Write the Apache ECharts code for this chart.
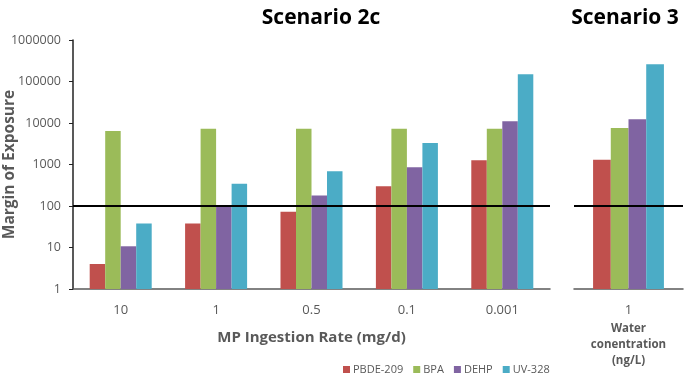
<!DOCTYPE html>
<html>
<head>
<meta charset="utf-8">
<script src="https://cdn.jsdelivr.net/npm/echarts@6/dist/echarts.min.js"></script>
<style>
  html, body { margin: 0; padding: 0; background: #fff; }
  #chart { width: 685px; height: 379px; }
</style>
</head>
<body>
<div id="chart"></div>
<script>
// Scenario 2c: MP ingestion rate (mg/d)
const ingestionRates = ['10', '1', '0.5', '0.1', '0.001'];
const pbde2c = [4, 38, 73, 300, 1260];
const bpa2c = [6400, 7300, 7300, 7300, 7300];
const dehp2c = [10.7, 100, 180, 855, 11000];
const uv2c = [38, 344, 690, 3300, 149000];

// Scenario 3: water concentration (ng/L)
const waterConc = ['1'];
const pbde3 = [1300];
const bpa3 = [7600];
const dehp3 = [12300];
const uv3 = [260000];

const threshold = 100;
const seriesNames = ['PBDE-209', 'BPA', 'DEHP', 'UV-328'];
const colors = ['#C0504D', '#9BBB59', '#8064A2', '#4BACC6'];

const font = "'Open Sans', sans-serif";
const gray = '#595959';

const thresholdLine = {
    symbol: 'none',
    silent: true,
    label: { show: false },
    lineStyle: { color: '#000', width: 2, type: 'solid' },
    data: [{ yAxis: threshold }]
};

function makeSeries(data, idx, axisIdx, withLine) {
    const s = {
        name: seriesNames[idx],
        type: 'bar',
        xAxisIndex: axisIdx,
        yAxisIndex: axisIdx,
        data: data,
        barGap: '0%',
        barCategoryGap: '35%',
        itemStyle: { color: colors[idx] },
        emphasis: { disabled: true }
    };
    if (withLine) s.markLine = thresholdLine;
    return s;
}

const chart = echarts.init(document.getElementById('chart'));
chart.setOption({
    animation: false,
    textStyle: { fontFamily: font },
    title: [
        { text: 'Scenario 2c', left: 316, top: 3, textAlign: 'center',
          textStyle: { fontSize: 21, fontWeight: 'bold', color: '#000', fontFamily: font } },
        { text: 'Scenario 3', left: 620, top: 3, textAlign: 'center',
          textStyle: { fontSize: 21, fontWeight: 'bold', color: '#000', fontFamily: font } }
    ],
    legend: {
        data: seriesNames,
        left: 338,
        top: 359,
        icon: 'rect',
        itemWidth: 7,
        itemHeight: 7,
        itemGap: 10,
        textStyle: { fontSize: 11, color: gray, fontFamily: font, padding: [0, 0, 0, -2] }
    },
    grid: [
        { left: 73, right: 135, top: 40, bottom: 90, outerBoundsMode: 'none', containLabel: false },
        { left: 574, right: 2, top: 40, bottom: 90, outerBoundsMode: 'none', containLabel: false }
    ],
    xAxis: [
        {
            type: 'category', gridIndex: 0, data: ingestionRates,
            name: 'MP Ingestion Rate (mg/d)', nameLocation: 'middle', nameGap: 41,
            nameMoveOverlap: false,
            nameTextStyle: { fontSize: 15, fontWeight: 'bold', color: gray, fontFamily: font },
            axisLine: { lineStyle: { color: '#595959', width: 1.5 } },
            axisTick: { show: false },
            axisLabel: { fontSize: 13, color: gray, margin: 15, fontFamily: font }
        },
        {
            type: 'category', gridIndex: 1, data: waterConc,
            name: 'Water\nconentration\n(ng/L)', nameLocation: 'middle', nameGap: 32,
            nameMoveOverlap: false,
            nameTextStyle: { fontSize: 11.5, fontWeight: 'bold', color: gray, lineHeight: 16, fontFamily: font,
                             verticalAlign: 'top' },
            axisLine: { lineStyle: { color: '#595959', width: 1.5 } },
            axisTick: { show: false },
            axisLabel: { fontSize: 13, color: gray, margin: 15, fontFamily: font }
        }
    ],
    yAxis: [
        {
            type: 'log', gridIndex: 0, min: 1, max: 1000000, logBase: 10,
            name: 'Margin of Exposure', nameLocation: 'middle', nameGap: 55,
            nameMoveOverlap: false,
            nameTextStyle: { fontSize: 15.5, fontWeight: 'bold', color: gray, fontFamily: font },
            axisLine: { show: true, lineStyle: { color: '#222', width: 1.5 } },
            axisTick: { show: true, length: 4, lineStyle: { color: '#222' } },
            axisLabel: { fontSize: 12.5, color: gray, margin: 12, fontFamily: font,
                         formatter: v => String(Math.round(v)) },
            splitLine: { show: false }
        },
        {
            type: 'log', gridIndex: 1, min: 1, max: 1000000, logBase: 10,
            axisLine: { show: false },
            axisTick: { show: false },
            axisLabel: { show: false },
            splitLine: { show: false }
        }
    ],
    series: [
        makeSeries(pbde2c, 0, 0, true),
        makeSeries(bpa2c, 1, 0, false),
        makeSeries(dehp2c, 2, 0, false),
        makeSeries(uv2c, 3, 0, false),
        makeSeries(pbde3, 0, 1, true),
        makeSeries(bpa3, 1, 1, false),
        makeSeries(dehp3, 2, 1, false),
        makeSeries(uv3, 3, 1, false)
    ]
});
</script>
</body>
</html>
